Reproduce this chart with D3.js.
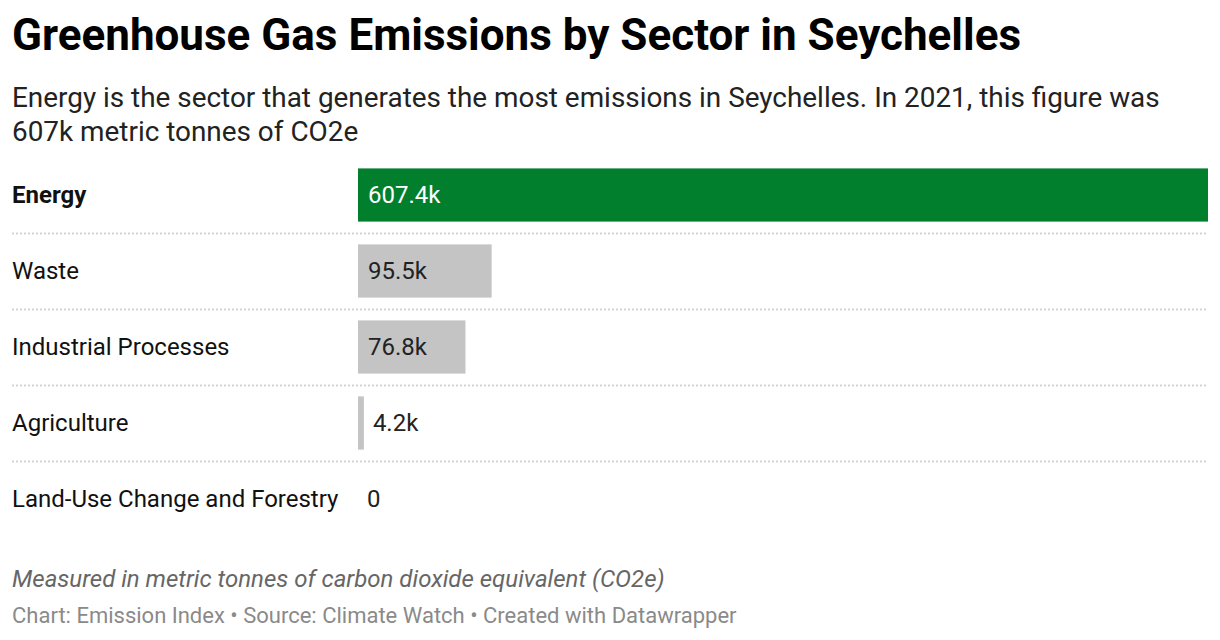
<!DOCTYPE html>
<html>
<head>
<meta charset="utf-8">
<script src="https://cdn.jsdelivr.net/npm/d3@7"></script>
<style>
  body { margin: 0; background: #fff; }
  svg { display: block; font-family: Roboto, "Noto Sans", sans-serif; }
</style>
</head>
<body>
<svg id="chart" width="1220" height="640"></svg>
<script>
const categories = ["Energy", "Waste", "Industrial Processes", "Agriculture", "Land-Use Change and Forestry"];
const values = [607.4, 95.5, 76.8, 4.2, 0];
const valueLabels = ["607.4k", "95.5k", "76.8k", "4.2k", "0"];
const highlighted = ["Energy"];

const title = "Greenhouse Gas Emissions by Sector in Seychelles";
const subtitleLines = [
  "Energy is the sector that generates the most emissions in Seychelles. In 2021, this figure was",
  "607k metric tonnes of CO2e"
];
const note = "Measured in metric tonnes of carbon dioxide equivalent (CO2e)";
const source = "Chart: Emission Index \u2022 Source: Climate Watch \u2022 Created with Datawrapper";

const svg = d3.select("#chart");
const left = 12, right = 1208;
const barX0 = 358;

svg.append("text").attr("x", left).attr("y", 50)
  .attr("font-size", 44).attr("font-weight", 700).attr("fill", "#000")
  .text(title);

svg.append("g").selectAll("text").data(subtitleLines).join("text")
  .attr("x", left).attr("y", (d, i) => 107 + i * 34)
  .attr("font-size", 27.9).attr("fill", "#222")
  .text(d => d);

const y = d3.scaleBand().domain(categories).range([157, 537]).paddingInner(0.3).paddingOuter(0.15);
const x = d3.scaleLinear().domain([0, d3.max(values)]).range([barX0, right]);

const rows = svg.append("g").selectAll("g").data(categories).join("g");

// separators
svg.append("g").selectAll("line").data(categories.slice(0, -1)).join("line")
  .attr("x1", left).attr("x2", right)
  .attr("y1", d => Math.round(y(d) + y.bandwidth() + y.step() * y.paddingInner() / 2) + 0.5)
  .attr("y2", d => Math.round(y(d) + y.bandwidth() + y.step() * y.paddingInner() / 2) + 0.5)
  .attr("stroke", "#d4d4d4").attr("stroke-width", 2).attr("stroke-dasharray", "2,2");

rows.append("text")
  .attr("x", left)
  .attr("y", d => y(d) + y.bandwidth() / 2)
  .attr("dy", "0.35em")
  .attr("font-size", 24)
  .attr("font-weight", d => highlighted.includes(d) ? 700 : 400)
  .attr("fill", "#111")
  .text(d => d);

rows.append("rect")
  .attr("x", x(0))
  .attr("y", d => y(d))
  .attr("height", y.bandwidth())
  .attr("width", (d, i) => x(values[i]) - x(0))
  .attr("fill", d => highlighted.includes(d) ? "#017f2d" : "#c4c4c4");

rows.append("text")
  .attr("x", (d, i) => (x(values[i]) - x(0) > 60) ? x(0) + 10 : x(values[i]) + 9)
  .attr("y", d => y(d) + y.bandwidth() / 2)
  .attr("dy", "0.35em")
  .attr("font-size", 24)
  .attr("fill", (d, i) => highlighted.includes(d) ? "#fff" : "#222")
  .text((d, i) => valueLabels[i]);

svg.append("text").attr("x", left).attr("y", 587)
  .attr("font-size", 24).attr("font-style", "italic").attr("fill", "#666")
  .text(note);

svg.append("text").attr("x", left).attr("y", 623)
  .attr("font-size", 22).attr("fill", "#8a8a8a")
  .text(source);
</script>
</body>
</html>
